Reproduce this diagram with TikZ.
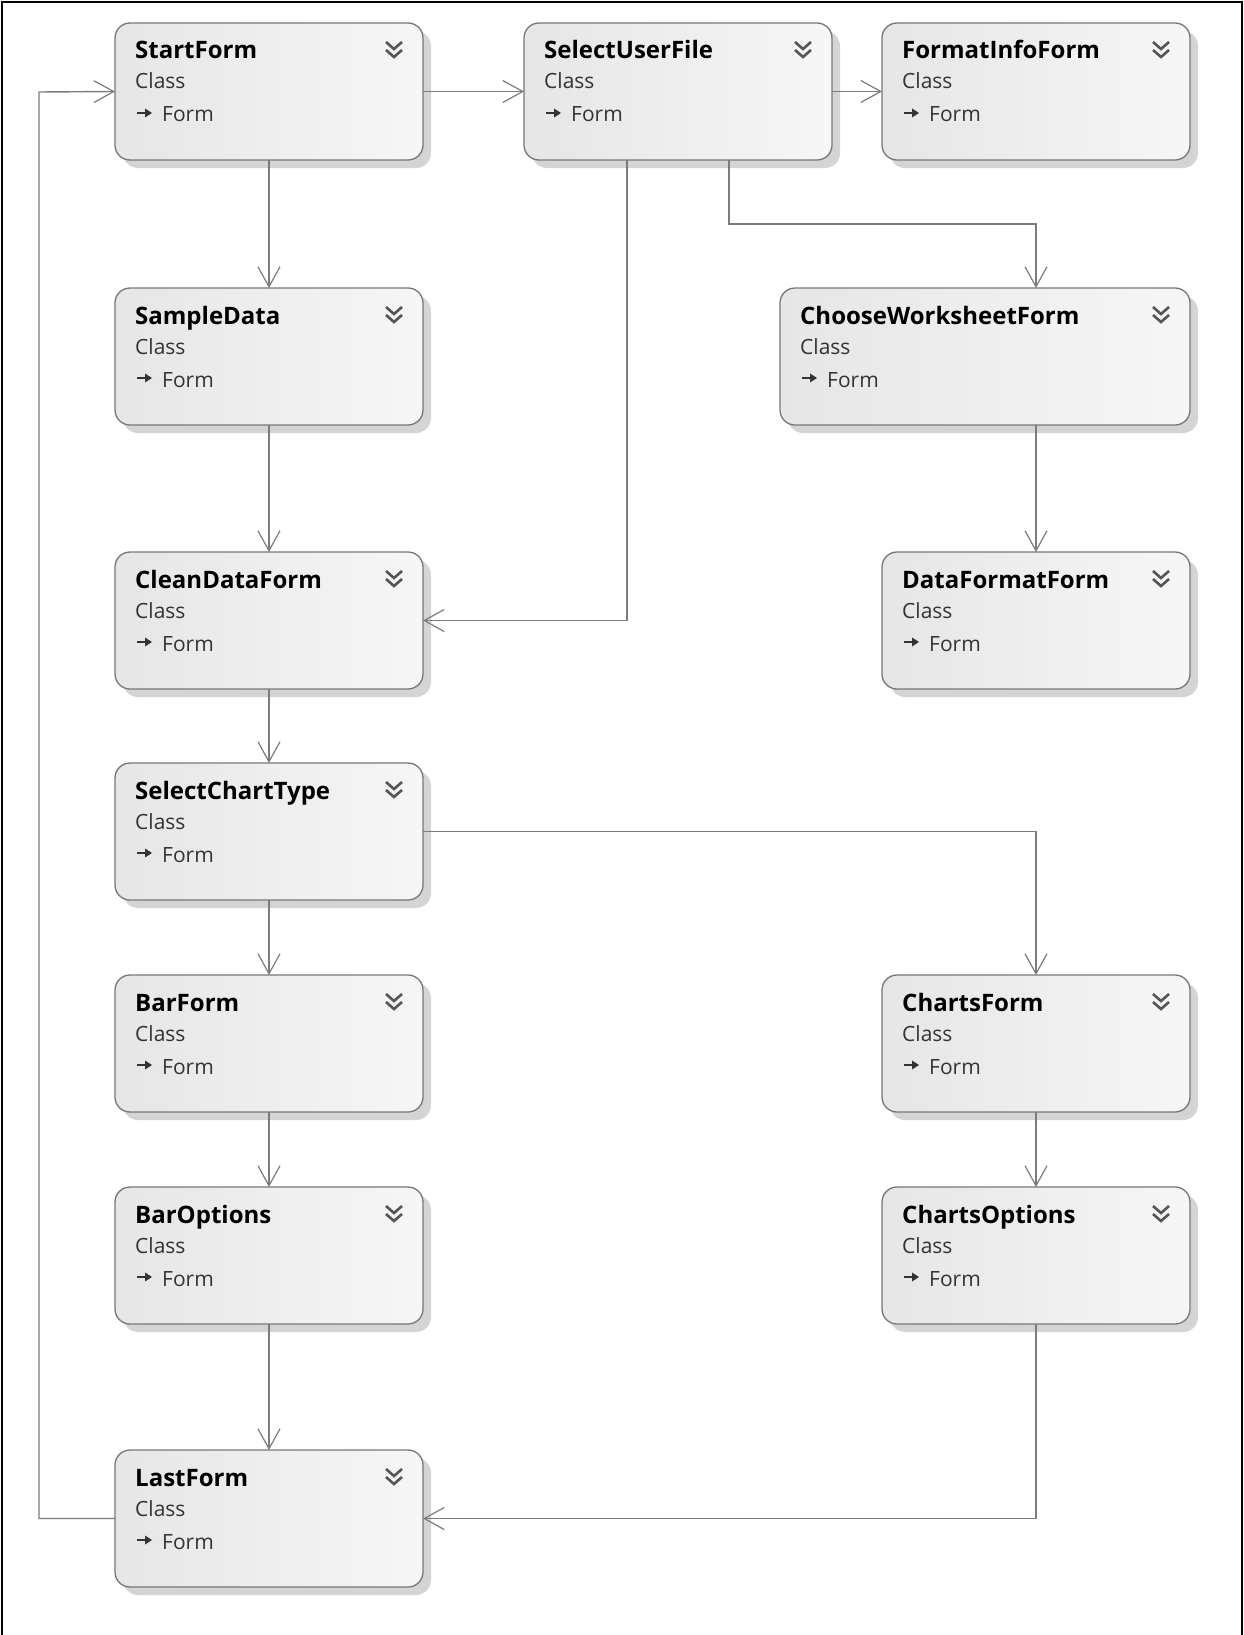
\documentclass[tikz,border=0pt]{standalone}
\usepackage{fontspec}
\setmainfont{Open Sans}
\usetikzlibrary{arrows.meta,calc}
\definecolor{linec}{HTML}{7C7C7C}
\definecolor{boxc}{HTML}{777777}
\definecolor{shadowc}{HTML}{D4D4D4}
\definecolor{fillL}{HTML}{E6E6E6}
\definecolor{fillR}{HTML}{F6F6F6}
\definecolor{subc}{HTML}{333333}
\definecolor{chevc}{HTML}{555555}
\tikzset{
  clsnode/.style={draw=boxc, line width=1.3pt, rounded corners=15pt, left color=fillL, right color=fillR,
    minimum height=137pt, inner sep=0pt, outer sep=0pt},
  ttl/.style={inner sep=0pt, font=\fontsize{24}{28}\selectfont\bfseries, text=black},
  subtxt/.style={inner sep=0pt, font=\fontsize{21}{25}\selectfont, text=subc},
  conn/.style={draw=linec, line width=1.4pt, -{Straight Barb[length=20pt,width=22pt,line width=1.2pt]}},
  chev/.style={draw=chevc, line width=2.6pt},
}
\newcommand\clsbox[5]{%
  \fill[shadowc, rounded corners=15pt] (#2+8,#3+8) rectangle (#2+#4+8,#3+145);
  \node[clsnode, minimum width=#4pt, anchor=north west] (#1) at (#2,#3) {};
  \node[ttl, anchor=base west] (#1t) at ($(#1.north west)+(20,36)$) {#5};
  \node[subtxt, anchor=base west] (#1c) at ($(#1.north west)+(20,66)$) {Class};
  \node[subtxt, anchor=base west] (#1f) at ($(#1.north west)+(47,99)$) {Form};
  \draw[draw=subc, line width=1.5pt] ($(#1.north west)+(22,90)$) -- ++(10,0);
  \fill[subc] ($(#1.north west)+(37,90)$) -- ++(-7,-4.5) -- ++(0,9) -- cycle;
  \draw[chev] ($(#1.north east)+(-37,19)$) -- ++(8,7) -- ++(8,-7);
  \draw[chev] ($(#1.north east)+(-37,27)$) -- ++(8,7) -- ++(8,-7);
}
\begin{document}
\begin{tikzpicture}[x=1pt,y=-1pt]
\useasboundingbox (0,0) rectangle (1244,1635);
\fill[white] (0,0) rectangle (1244,1635);
\draw[black, line width=2pt] (2,1635) -- (2,2) -- (1242,2) -- (1242,1635);

\clsbox{start}{115}{23}{308}{StartForm}
\clsbox{sel}{524}{23}{308}{SelectUserFile}
\clsbox{fmt}{882}{23}{308}{FormatInfoForm}
\clsbox{sample}{115}{288}{308}{SampleData}
\clsbox{choose}{780}{288}{410}{ChooseWorksheetForm}
\clsbox{clean}{115}{552}{308}{CleanDataForm}
\clsbox{dfmt}{882}{552}{308}{DataFormatForm}
\clsbox{sct}{115}{763}{308}{SelectChartType}
\clsbox{bar}{115}{975}{308}{BarForm}
\clsbox{charts}{882}{975}{308}{ChartsForm}
\clsbox{baropt}{115}{1187}{308}{BarOptions}
\clsbox{chartsopt}{882}{1187}{308}{ChartsOptions}
\clsbox{last}{115}{1450}{308}{LastForm}

\coordinate (lp) at (39,92);
\coordinate (k1) at (729,224);

\draw[conn] (start.east) -- (sel.west);
\draw[conn] (sel.east) -- (fmt.west);
\draw[conn] (start.south) -- (sample.north);
\draw[conn] ([xshift=51pt]sel.south) -- (k1) -| ([xshift=51pt]choose.north);
\draw[conn] ([xshift=-51pt]sel.south) |- (clean.east);
\draw[conn] ([xshift=51pt]choose.south) -- (dfmt.north);
\draw[conn] (sample.south) -- (clean.north);
\draw[conn] (clean.south) -- (sct.north);
\draw[conn] (sct.east) -| (charts.north);
\draw[conn] (sct.south) -- (bar.north);
\draw[conn] (bar.south) -- (baropt.north);
\draw[conn] (baropt.south) -- (last.north);
\draw[conn] (charts.south) -- (chartsopt.north);
\draw[conn] (chartsopt.south) |- (last.east);
\draw[conn] (last.west) -| (lp) -- (start.west);
\end{tikzpicture}
\end{document}
